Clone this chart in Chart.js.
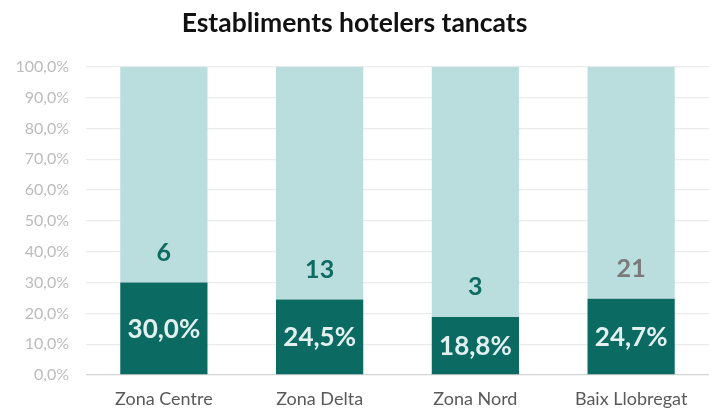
<!DOCTYPE html>
<html>
<head>
<meta charset="utf-8">
<script src="https://cdn.jsdelivr.net/npm/chart.js@4/dist/chart.umd.min.js"></script>
<style>
html,body{margin:0;padding:0;background:#fff;}
#wrap{width:709px;height:413px;position:relative;}
</style>
</head>
<body>
<div id="wrap"><canvas id="c" width="709" height="413"></canvas></div>
<script>
const categories = ['Zona Centre', 'Zona Delta', 'Zona Nord', 'Baix Llobregat'];
const closedShare = [30.0, 24.5, 18.8, 24.7];
const openShare = [70.0, 75.5, 81.2, 75.3];
const closedCounts = ['6', '13', '3', '21'];
const countColors = ['#0f6a62', '#0f6a62', '#0f6a62', '#7a7a7a'];
const titleText = 'Establiments hotelers tancats';

const FONT = 'Lato, "Open Sans", sans-serif';
const fmtPct = v => v.toFixed(1).replace('.', ',') + '%';

const labelPlugin = {
  id: 'barLabels',
  afterDatasetsDraw(chart) {
    const ctx = chart.ctx;
    const m0 = chart.getDatasetMeta(0);
    const m1 = chart.getDatasetMeta(1);
    ctx.save();
    ctx.textAlign = 'center';
    ctx.textBaseline = 'middle';
    m0.data.forEach((bar, i) => {
      const p = bar.getProps(['x', 'y', 'base'], true);
      ctx.fillStyle = '#e2f1f0';
      ctx.font = 'bold 26px ' + FONT;
      ctx.fillText(fmtPct(closedShare[i]), p.x, (p.y + p.base) / 2 + 1);
    });
    m1.data.forEach((bar, i) => {
      const p = bar.getProps(['x', 'y', 'base'], true);
      ctx.fillStyle = countColors[i];
      ctx.font = 'bold 25px ' + FONT;
      ctx.fillText(closedCounts[i], p.x, p.base - 30);
    });
    ctx.restore();
  }
};

new Chart(document.getElementById('c'), {
  type: 'bar',
  data: {
    labels: categories,
    datasets: [
      { label: 'Tancats', data: closedShare, backgroundColor: '#0b6a62', categoryPercentage: 1, barPercentage: 0.56 },
      { label: 'Resta', data: openShare, backgroundColor: '#badede', categoryPercentage: 1, barPercentage: 0.56 }
    ]
  },
  options: {
    responsive: false,
    animation: false,
    layout: { padding: { left: 0, right: 0, top: 0, bottom: 0 } },
    plugins: {
      legend: { display: false },
      tooltip: { enabled: false },
      title: {
        display: true,
        text: titleText,
        color: '#111',
        font: { family: FONT, size: 26.5, weight: 'bold' },
        padding: { top: 8, bottom: 27 }
      }
    },
    scales: {
      x: {
        stacked: true,
        afterFit(s) { s.height = 38; },
        grid: { display: false },
        border: { display: false },
        ticks: { color: '#595959', font: { family: FONT, size: 18 }, padding: 5 }
      },
      y: {
        stacked: true,
        min: 0,
        max: 100,
        afterFit(s) { s.width = 86; },
        border: { display: false },
        grid: {
          color: ctx => ctx.tick && ctx.tick.value === 0 ? '#d4d4d4' : '#ebebeb',
          lineWidth: 1.3,
          drawTicks: false
        },
        ticks: {
          stepSize: 10,
          color: '#bcbcbc',
          padding: 17,
          font: { family: FONT, size: 16 },
          callback: v => fmtPct(v)
        }
      }
    }
  },
  plugins: [labelPlugin]
});
</script>
</body>
</html>
